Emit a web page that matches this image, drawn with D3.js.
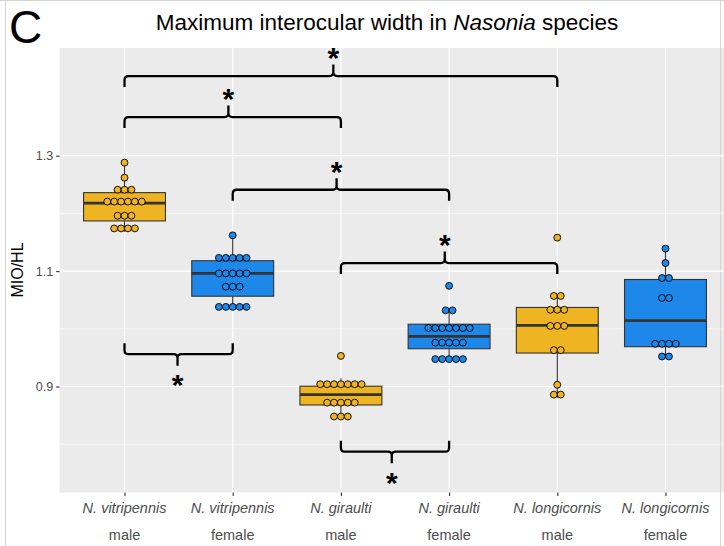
<!DOCTYPE html>
<html>
<head>
<meta charset="utf-8">
<script src="https://cdn.jsdelivr.net/npm/d3@7"></script>
<style>
  html, body { margin: 0; padding: 0; background: #fff; }
  svg { display: block; font-family: "Liberation Sans", Arial, sans-serif; }
</style>
</head>
<body>
<svg id="chart" width="724" height="546"></svg>
<script>
// ---------- data ----------
const speciesLabels = ["N. vitripennis", "N. vitripennis", "N. giraulti", "N. giraulti", "N. longicornis", "N. longicornis"];
const sexLabels = ["male", "female", "male", "female", "male", "female"];
const groupColors = ["gold", "blue", "gold", "blue", "gold", "blue"];

// box statistics
const q1 = [1.187, 1.0565, 0.868, 0.9655, 0.958, 0.969];
const medians = [1.218, 1.096, 0.886, 0.987, 1.006, 1.0143];
const q3 = [1.236, 1.118, 0.9005, 1.008, 1.037, 1.0855];
const whiskerLow = [1.168, 1.034, 0.845, 0.944, 0.88, 0.949];
const whiskerHigh = [1.288, 1.162, 0.914, 1.032, 1.057, 1.139];

// individual observations (binned dot values)
const vitripennisMale = [1.288, 1.262, 1.241, 1.241, 1.241, 1.2205, 1.2205, 1.2205, 1.2205, 1.2205, 1.2205, 1.196, 1.196, 1.196, 1.174, 1.174, 1.174, 1.174];
const vitripennisFemale = [1.162, 1.123, 1.123, 1.123, 1.123, 1.123, 1.096, 1.096, 1.096, 1.096, 1.096, 1.073, 1.073, 1.073, 1.038, 1.038, 1.038, 1.038, 1.038];
const giraultiMale = [0.953, 0.904, 0.904, 0.904, 0.904, 0.904, 0.904, 0.904, 0.872, 0.872, 0.872, 0.872, 0.872, 0.848, 0.848, 0.848];
const giraultiFemale = [1.0745, 1.032, 1.032, 1.0014, 1.0014, 1.0014, 1.0014, 1.0014, 1.0014, 1.0014, 0.976, 0.976, 0.976, 0.976, 0.976, 0.9475, 0.9475, 0.9475, 0.9475, 0.9475];
const longicornisMale = [1.158, 1.057, 1.057, 1.033, 1.033, 1.033, 1.005, 1.005, 1.005, 0.963, 0.963, 0.903, 0.886, 0.886];
const longicornisFemale = [1.139, 1.114, 1.088, 1.088, 1.0535, 1.0535, 0.974, 0.974, 0.974, 0.974, 0.952, 0.952];
const observations = [vitripennisMale, vitripennisFemale, giraultiMale, giraultiFemale, longicornisMale, longicornisFemale];

const yTicks = [0.9, 1.1, 1.3];
const yMinorTicks = [0.8, 1.0, 1.2];

// significance brackets (category indices, value level, tick position, direction)
const bracketFrom = [0, 0, 1, 2, 0, 2];
const bracketTo = [4, 2, 3, 4, 1, 3];
const bracketLevel = [1.438, 1.367, 1.241, 1.114, 0.956, 0.787];
const bracketTick = [1.93, 0.96, 1.96, 2.96, 0.49, 2.47];
const bracketUp = [true, true, true, true, false, false];

// ---------- layout ----------
const fillColor = { gold: "#EEB422", blue: "#1E88EA" };
const svg = d3.select("#chart");
svg.append("rect").attr("width", 724).attr("height", 546).attr("fill", "#fff");

const panel = { left: 59.6, right: 730.4, top: 48, bottom: 492.5 };
const cats = d3.range(6);
const x = d3.scalePoint().domain(cats).range([panel.left, panel.right]).padding(0.6);
const xi = d3.scaleLinear().domain([0, 5]).range([x(0), x(5)]);
const y = d3.scaleLinear().domain([0.7163, 1.4867]).range([panel.bottom, panel.top]);
const step = x.step();

// frame lines
svg.append("line").attr("x1", 5.5).attr("x2", 5.5).attr("y1", 0).attr("y2", 546).attr("stroke", "#d4d4d4").attr("stroke-width", 1);
svg.append("line").attr("x1", 0).attr("x2", 724).attr("y1", 0.5).attr("y2", 0.5).attr("stroke", "#d4d4d4").attr("stroke-width", 1);

// panel background
svg.append("rect").attr("x", panel.left).attr("y", panel.top)
  .attr("width", panel.right - panel.left).attr("height", panel.bottom - panel.top)
  .attr("fill", "#EBEBEB");
svg.append("line").attr("x1", 720.5).attr("x2", 720.5).attr("y1", 0).attr("y2", 546).attr("stroke", "#d4d4d4").attr("stroke-width", 1);

// grid
const grid = svg.append("g");
grid.selectAll(".minor").data(yMinorTicks).join("line")
  .attr("x1", panel.left).attr("x2", panel.right)
  .attr("y1", d => y(d)).attr("y2", d => y(d))
  .attr("stroke", "#fff").attr("stroke-width", 0.6);
grid.selectAll(".major").data(yTicks).join("line")
  .attr("x1", panel.left).attr("x2", panel.right)
  .attr("y1", d => y(d)).attr("y2", d => y(d))
  .attr("stroke", "#fff").attr("stroke-width", 1.2);
grid.selectAll(".vert").data(cats).join("line")
  .attr("x1", d => x(d)).attr("x2", d => x(d))
  .attr("y1", panel.top).attr("y2", panel.bottom)
  .attr("stroke", "#fff").attr("stroke-width", 1.2);

// y axis
const yAxis = d3.axisLeft(y).tickValues(yTicks).tickFormat(d3.format(".1f")).tickSize(3.5).tickPadding(3);
const gy = svg.append("g").attr("transform", `translate(${panel.left},0)`).call(yAxis);
gy.select(".domain").remove();
gy.selectAll(".tick line").attr("stroke", "#333").attr("stroke-width", 1.1);
gy.selectAll(".tick text").attr("fill", "#4D4D4D").attr("font-size", 12.5)
  .attr("font-family", "Liberation Sans, Arial, sans-serif");

// x axis
const xAxis = d3.axisBottom(x).tickSize(3.5).tickFormat("");
const gx = svg.append("g").attr("transform", `translate(0,${panel.bottom})`).call(xAxis);
gx.select(".domain").remove();
gx.selectAll(".tick line").attr("stroke", "#333").attr("stroke-width", 1.1);

const xl = svg.append("g").attr("font-size", 14.5).attr("fill", "#4D4D4D").attr("text-anchor", "middle");
xl.selectAll(".sp").data(cats).join("text")
  .attr("x", d => x(d)).attr("y", 513).attr("font-style", "italic").text(d => speciesLabels[d]);
xl.selectAll(".sx").data(cats).join("text")
  .attr("x", d => x(d)).attr("y", 540).text(d => sexLabels[d]);

// y title
svg.append("text").attr("transform", `translate(23,270) rotate(-90)`)
  .attr("text-anchor", "middle").attr("font-size", 16).attr("fill", "#000").text("MIO/HL");

// title
const title = svg.append("text").attr("x", 387).attr("y", 30).attr("text-anchor", "middle")
  .attr("font-size", 22.5).attr("fill", "#000");
title.append("tspan").text("Maximum interocular width in ");
title.append("tspan").attr("font-style", "italic").text("Nasonia");
title.append("tspan").text(" species");

svg.append("text").attr("x", 9).attr("y", 43).attr("font-size", 46).attr("fill", "#000").text("C");

// boxes
const bw = step * 0.757;
const boxes = svg.append("g");
cats.forEach(i => {
  const cx = x(i);
  const g = boxes.append("g");
  g.append("line").attr("x1", cx).attr("x2", cx).attr("y1", y(whiskerHigh[i])).attr("y2", y(q3[i]))
    .attr("stroke", "#333").attr("stroke-width", 1.1);
  g.append("line").attr("x1", cx).attr("x2", cx).attr("y1", y(q1[i])).attr("y2", y(whiskerLow[i]))
    .attr("stroke", "#333").attr("stroke-width", 1.1);
  g.append("rect").attr("x", cx - bw / 2).attr("y", y(q3[i]))
    .attr("width", bw).attr("height", y(q1[i]) - y(q3[i]))
    .attr("fill", fillColor[groupColors[i]]).attr("stroke", "#333").attr("stroke-width", 1.1);
  g.append("line").attr("x1", cx - bw / 2).attr("x2", cx + bw / 2)
    .attr("y1", y(medians[i])).attr("y2", y(medians[i]))
    .attr("stroke", "#333").attr("stroke-width", 2.8);
});

// dots
const dotD = 6.9;
const dots = svg.append("g");
observations.forEach((vals, i) => {
  const bins = d3.rollups(vals, v => v.length, v => v);
  bins.forEach(([v, n]) => {
    for (let k = 0; k < n; k++) {
      dots.append("circle")
        .attr("cx", x(i) + (k - (n - 1) / 2) * dotD)
        .attr("cy", y(v)).attr("r", 3.45)
        .attr("fill", fillColor[groupColors[i]])
        .attr("stroke", "#000").attr("stroke-width", 0.9);
    }
  });
});

// brackets
const br = svg.append("g");
const r = 4, endDepth = 11, tickLen = 11.5;
bracketFrom.forEach((f, j) => {
  const x1 = xi(f), x2 = xi(bracketTo[j]), tx = xi(bracketTick[j]);
  const yy = y(bracketLevel[j]);
  const s = bracketUp[j] ? 1 : -1; // s=1: ends point down, tick up
  const p = d3.path();
  p.moveTo(x1, yy + s * endDepth);
  p.lineTo(x1, yy + s * r);
  p.quadraticCurveTo(x1, yy, x1 + r, yy);
  p.lineTo(tx - r, yy);
  p.quadraticCurveTo(tx, yy, tx, yy - s * r);
  p.lineTo(tx, yy - s * tickLen);
  p.moveTo(tx, yy - s * r);
  p.quadraticCurveTo(tx, yy, tx + r, yy);
  p.lineTo(x2 - r, yy);
  p.quadraticCurveTo(x2, yy, x2, yy + s * r);
  p.lineTo(x2, yy + s * endDepth);
  br.append("path").attr("d", p.toString()).attr("fill", "none")
    .attr("stroke", "#000").attr("stroke-width", 2.3);
  const fs = 30;
  const cy = bracketUp[j] ? yy - tickLen - 14 : yy + tickLen + 12;
  br.append("text").attr("x", tx).attr("y", cy + 0.58 * fs).attr("text-anchor", "middle")
    .attr("font-size", fs).attr("font-weight", "bold").attr("fill", "#000").text("*");
});
</script>
</body>
</html>
